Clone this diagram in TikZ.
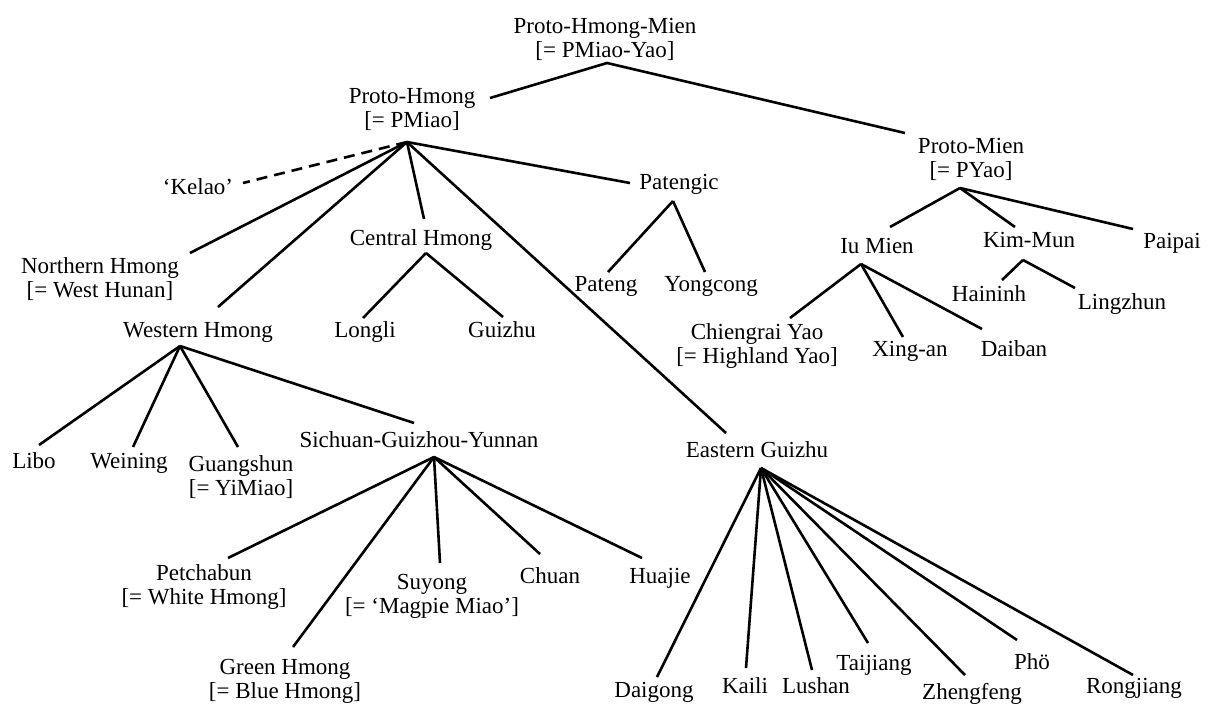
\documentclass[tikz,border=0pt]{standalone}
\usepackage{fontspec}
\setmainfont{Liberation Serif}
\begin{document}
\begin{tikzpicture}[x=1pt,y=-1pt,
  lbl/.style={inner sep=0pt,anchor=base,align=center,font=\fontsize{23pt}{24pt}\selectfont},
  edge/.style={line width=2.6pt},
  dashedge/.style={line width=2.6pt,dash pattern=on 11pt off 7pt}]
\useasboundingbox (0,0) rectangle (1210,705);
% nodes (multi-line nodes are placed by the baseline of their last line)
\node[lbl] (phm) at (605,57) {Proto-Hmong-Mien\\{[}= PMiao-Yao]};
\node[lbl] (ph) at (412,127) {Proto-Hmong\\{[}= PMiao]};
\node[lbl] (pm) at (971,177) {Proto-Mien\\{[}= PYao]};
\node[lbl] (kelao) at (198,194) {‘Kelao’};
\node[lbl] (nh) at (100,297) {Northern Hmong\\{[}= West Hunan]};
\node[lbl] (wh) at (198,337) {Western Hmong};
\node[lbl] (ch) at (421,245) {Central Hmong};
\node[lbl] (pat) at (679,189) {Patengic};
\node[lbl] (eg) at (757,457) {Eastern Guizhu};
\node[lbl] (longli) at (365,337) {Longli};
\node[lbl] (guizhu) at (502,337) {Guizhu};
\node[lbl] (pateng) at (606,291) {Pateng};
\node[lbl] (yong) at (711,291) {Yongcong};
\node[lbl] (iu) at (877,253) {Iu Mien};
\node[lbl] (km) at (1029,247) {Kim-Mun};
\node[lbl] (paipai) at (1172,248) {Paipai};
\node[lbl] (chy) at (757,363) {Chiengrai Yao\\{[}= Highland Yao]};
\node[lbl] (xing) at (910,356) {Xing-an};
\node[lbl] (daiban) at (1014,356) {Daiban};
\node[lbl] (hain) at (989,301) {Haininh};
\node[lbl] (ling) at (1122,309) {Lingzhun};
\node[lbl] (libo) at (34,468) {Libo};
\node[lbl] (wein) at (129,468) {Weining};
\node[lbl] (guang) at (241,495) {Guangshun\\{[}= YiMiao]};
\node[lbl] (sgy) at (419,447) {Sichuan-Guizhou-Yunnan};
\node[lbl] (petch) at (204,604) {Petchabun\\{[}= White Hmong]};
\node[lbl] (green) at (285,698) {Green Hmong\\{[}= Blue Hmong]};
\node[lbl] (suyong) at (432,613) {Suyong\\{[}= ‘Magpie Miao’]};
\node[lbl] (chuan) at (550,583) {Chuan};
\node[lbl] (huajie) at (660,583) {Huajie};
\node[lbl] (daigong) at (654,697) {Daigong};
\node[lbl] (kaili) at (745,693) {Kaili};
\node[lbl] (lushan) at (816,693) {Lushan};
\node[lbl] (taij) at (874,670) {Taijiang};
\node[lbl] (zheng) at (972,699) {Zhengfeng};
\node[lbl] (pho) at (1032,669) {Phö};
\node[lbl] (rong) at (1134,693) {Rongjiang};
% connectors
\draw[edge] ([shift={(78,-29)}]ph.base) -- ([shift={(2,6)}]phm.base) -- ([shift={(-66,-44)}]pm.base);
\draw[dashedge] ([shift={(-5,15)}]ph.base) -- ([shift={(45,-11)}]kelao.base);
\foreach \c/\dx/\dy in {nh/90/-44, wh/20/-30, ch/3/-26, eg/-31/-24, pat/-49/-6}
  \draw[edge] ([shift={(-5,15)}]ph.base) -- ([shift={(\dx,\dy)}]\c.base);
\foreach \c/\dx/\dy in {longli/-2/-19, guizhu/1/-20}
  \draw[edge] ([shift={(5,8)}]ch.base) -- ([shift={(\dx,\dy)}]\c.base);
\foreach \c/\dx/\dy in {pateng/2/-19, yong/-6/-19}
  \draw[edge] ([shift={(-6,12)}]pat.base) -- ([shift={(\dx,\dy)}]\c.base);
\foreach \c/\dx/\dy in {iu/13/-26, km/-14/-20, paipai/-39/-19}
  \draw[edge] ([shift={(-11,11)}]pm.base) -- ([shift={(\dx,\dy)}]\c.base);
\foreach \c/\dx/\dy in {chy/33/-45, xing/-7/-19, daiban/-32/-27}
  \draw[edge] ([shift={(-16,11)}]iu.base) -- ([shift={(\dx,\dy)}]\c.base);
\foreach \c/\dx/\dy in {hain/13/-21, ling/-47/-21}
  \draw[edge] ([shift={(-6,13)}]km.base) -- ([shift={(\dx,\dy)}]\c.base);
\foreach \c/\dx/\dy in {libo/5/-23, wein/4/-21, guang/-3/-48, sgy/-5/-24}
  \draw[edge] ([shift={(-18,9)}]wh.base) -- ([shift={(\dx,\dy)}]\c.base);
\foreach \c/\dx/\dy in {petch/24/-46, green/8/-51, suyong/8/-50, chuan/-10/-29, huajie/-18/-25}
  \draw[edge] ([shift={(15,10)}]sgy.base) -- ([shift={(\dx,\dy)}]\c.base);
\foreach \c/\dx/\dy in {daigong/3/-20, kaili/1/-25, lushan/-4/-23, taij/-6/-27, zheng/-7/-24, pho/-15/-29, rong/-1/-18}
  \draw[edge] ([shift={(4,11)}]eg.base) -- ([shift={(\dx,\dy)}]\c.base);
\end{tikzpicture}
\end{document}
